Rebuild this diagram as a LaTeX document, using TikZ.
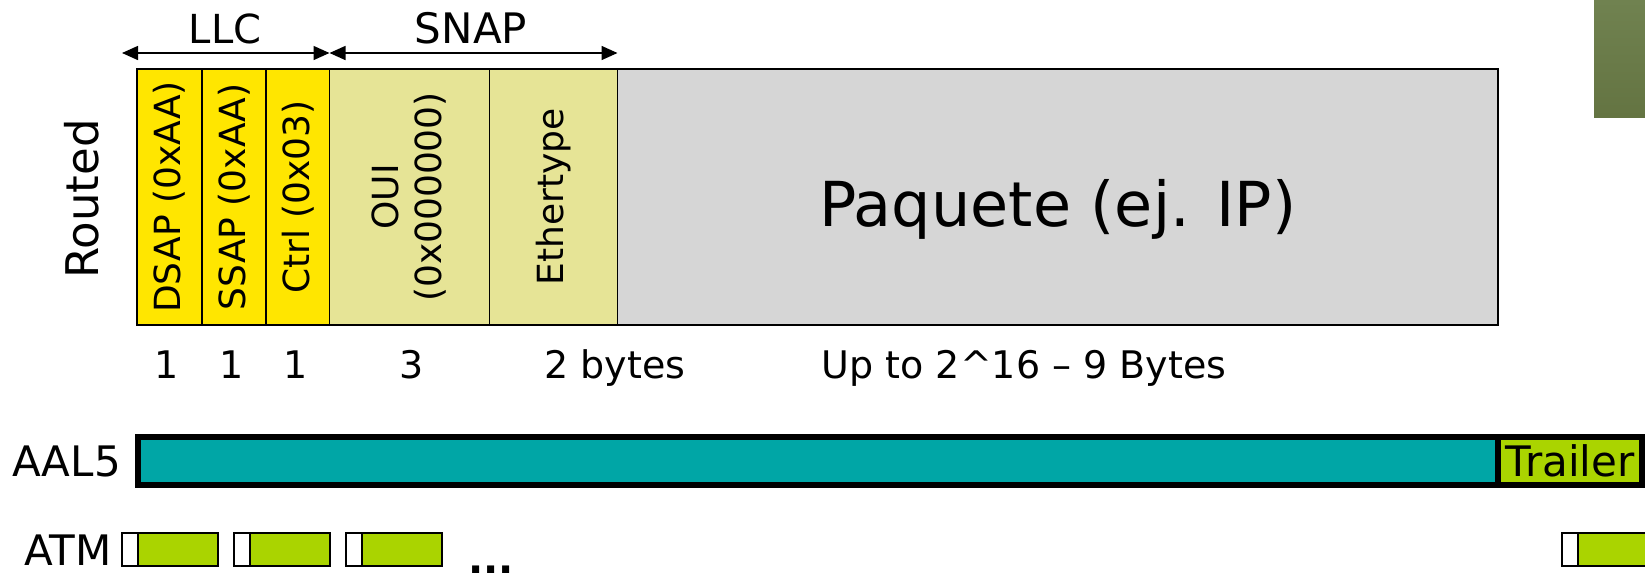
\documentclass[tikz,border=0pt]{standalone}
\usepackage{fontspec}
\setmainfont{DejaVu Sans}
\usepackage{xcolor}
\usepackage{tikz}
\usetikzlibrary{arrows.meta, positioning, calc}
\definecolor{llcyellow}{RGB}{255,230,0}
\definecolor{snapkhaki}{RGB}{230,228,150}
\definecolor{payloadgray}{RGB}{214,214,214}
\definecolor{aalteal}{RGB}{0,166,166}
\definecolor{cellgreen}{RGB}{170,212,0}
\definecolor{cornertop}{RGB}{112,130,80}
\definecolor{cornerbot}{RGB}{100,116,66}
\tikzstyle{field} = [rectangle, draw=black, line width=1.5pt, rotate=90, minimum width=256pt, inner sep=0pt, outer sep=0pt, align=center, font=\fontsize{36}{43}\selectfont]
\tikzstyle{llcfield} = [field, fill=llcyellow]
\tikzstyle{snapfield} = [field, fill=snapkhaki]
\tikzstyle{payload} = [rectangle, draw=black, line width=1.5pt, fill=payloadgray, minimum height=256pt, inner sep=0pt, outer sep=0pt, text height=58pt, text depth=0pt, font=\fontsize{62}{70}\selectfont]
\tikzstyle{sizetext} = [anchor=base, inner sep=0pt, font=\fontsize{38}{44}\selectfont]
\tikzstyle{tagtext} = [inner sep=0pt, font=\fontsize{42}{48}\selectfont]
\tikzstyle{dimarrow} = [line width=1.5pt, {Triangle[length=16pt,width=14pt]}-{Triangle[length=16pt,width=14pt]}]
\tikzstyle{aalbar} = [rectangle, draw=black, line width=6pt, minimum height=48pt, inner sep=0pt, outer sep=0pt, font=\fontsize{42}{48}\selectfont]
\tikzstyle{atmhdr} = [rectangle, draw=black, line width=1.5pt, fill=white, minimum width=16pt, minimum height=33pt, inner sep=0pt, outer sep=0pt]
\tikzstyle{atmpay} = [atmhdr, fill=cellgreen, minimum width=80pt]

\begin{document}
\begin{tikzpicture}[x=1pt, y=-1pt]
\useasboundingbox (0,0) rectangle (1645,576);
\clip (0,0) rectangle (1645,576);

% corner decoration
\shade[top color=cornertop, bottom color=cornerbot] (1594,0) rectangle (1650,117);

% Header fields
\node (dsap) [llcfield, minimum height=65pt] at (169.5,197) {DSAP (0xAA)};
\node (ssap) [llcfield, minimum height=64pt] at (234,197) {SSAP (0xAA)};
\node (ctrl) [llcfield, minimum height=63.5pt] at (297.75,197) {Ctrl (0x03)};
\node (oui) [snapfield, minimum height=160pt] at (409.5,197) {OUI\\(0x000000)};
\node (ether) [snapfield, minimum height=128pt] at (553.5,197) {Ethertype};
\node (packet) [payload, minimum width=880.5pt] at (1057.75,197) {Paquete (ej. IP)};

\node (routed) [tagtext, rotate=90, font=\fontsize{45}{50}\selectfont] at (82,199) {Routed};

% LLC / SNAP extents
\coordinate (llcL) at (122,53);
\coordinate (llcR) at (329.5,53);
\coordinate (snapR) at (617.5,53);
\draw [dimarrow] (llcL) -- (llcR);
\draw [dimarrow] (llcR) -- (snapR);
\node (llc) [sizetext, font=\fontsize{40}{46}\selectfont] at (225,43) {LLC};
\node (snap) [sizetext, font=\fontsize{42}{48}\selectfont] at (471,43) {SNAP};

% Sizes
\node (szdsap) [sizetext] at (167,378) {1};
\node (szssap) [sizetext] at (232,378) {1};
\node (szctrl) [sizetext] at (296,378) {1};
\node (szoui) [sizetext] at (412,378) {3};
\node (szether) [sizetext] at (615,378) {2 bytes};
\node (szpacket) [sizetext] at (1024,378) {Up to 2\textasciicircum16 -- 9 Bytes};

% AAL5
\node (aal5) [tagtext, anchor=east] at (121,461) {AAL5};
\node (aalpay) [aalbar, fill=aalteal, minimum width=1360pt] at (818,461) {};
\node (trailer) [aalbar, fill=cellgreen, minimum width=144pt, right=0pt of aalpay] {Trailer};

% ATM cells
\node (atm) [tagtext, anchor=east] at (112,550) {ATM};
\foreach \i/\x in {1/122, 2/234, 3/346, 4/1562} {
  \node (hdr\i) [atmhdr] at (\x+8,549.5) {};
  \node (cell\i) [atmpay, right=0pt of hdr\i] {};
}
\node (dots) [anchor=base, inner sep=0pt, font=\fontsize{40}{46}\selectfont\bfseries] at (491,573) {...};

\end{tikzpicture}
\end{document}
